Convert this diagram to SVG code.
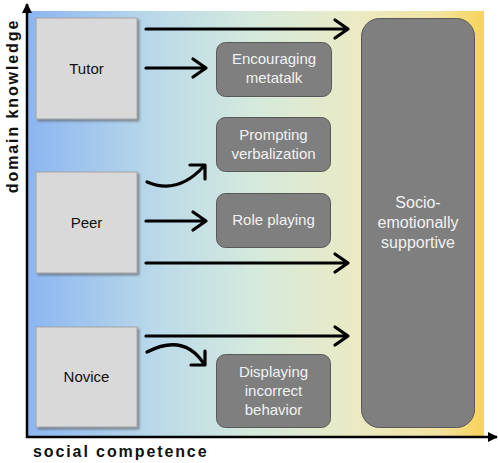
<svg xmlns="http://www.w3.org/2000/svg" width="498" height="463" viewBox="0 0 498 463">
<defs>
<linearGradient id="bg" x1="0" y1="0" x2="1" y2="0">
<stop offset="0" stop-color="#8cb6f2"/>
<stop offset="0.3" stop-color="#bddbe8"/>
<stop offset="0.5" stop-color="#d5eadc"/>
<stop offset="0.72" stop-color="#ebeac4"/>
<stop offset="0.9" stop-color="#f2e3a0"/>
<stop offset="1" stop-color="#f8d35a"/>
</linearGradient>
<filter id="sh" x="-10%" y="-10%" width="130%" height="130%">
<feDropShadow dx="2" dy="2" stdDeviation="1" flood-color="#555" flood-opacity="0.6"/>
</filter>
<marker id="tri" viewBox="0 0 10 10" refX="9" refY="5" markerWidth="10" markerHeight="10" markerUnits="userSpaceOnUse" orient="auto">
<path d="M0,0 L10,5 L0,10 z" fill="#000"/>
</marker>
</defs>
<style>
.role rect{fill:#d9d9d9;stroke:#a3a3a3;stroke-width:1;}
.role text{font-family:"Liberation Sans",Arial,sans-serif;font-size:15px;fill:#111;text-anchor:middle;}
.beh rect{fill:#7f7f7f;stroke:#595959;stroke-width:1;}
.beh text{font-family:"Liberation Sans",Arial,sans-serif;font-size:15px;fill:#f2f2f2;text-anchor:middle;}
.conn path{fill:none;stroke:#000;stroke-width:3.2;stroke-linecap:round;stroke-linejoin:round;}
.axis{stroke:#000;stroke-width:2.5;fill:none;}
.alabel{font-family:"Liberation Sans",Arial,sans-serif;font-size:16px;font-weight:bold;fill:#111;letter-spacing:1.9px;}
</style>
<rect x="28" y="11" width="456" height="425" fill="url(#bg)"/>
<g id="axes">
<line class="axis" x1="27" y1="438" x2="27" y2="4" marker-end="url(#tri)"/>
<line class="axis" x1="26" y1="437" x2="497" y2="437" marker-end="url(#tri)"/>
<text class="alabel" transform="translate(18,106) rotate(-90)" text-anchor="middle">domain knowledge</text>
<text class="alabel" x="33" y="457">social competence</text>
</g>
<g id="tutor" class="role"><rect x="36" y="18" width="101" height="101" filter="url(#sh)"/><text x="86.5" y="74">Tutor</text></g>
<g id="peer" class="role"><rect x="36" y="172" width="101" height="101" filter="url(#sh)"/><text x="86.5" y="228">Peer</text></g>
<g id="novice" class="role"><rect x="36" y="327" width="101" height="100" filter="url(#sh)"/><text x="86.5" y="382">Novice</text></g>
<g id="encouraging" class="beh"><rect x="216.5" y="42.5" width="115" height="54" rx="9"/><text x="274" y="64">Encouraging</text><text x="274" y="83">metatalk</text></g>
<g id="prompting" class="beh"><rect x="216.5" y="117.5" width="114" height="54" rx="9"/><text x="273.5" y="140">Prompting</text><text x="273.5" y="159">verbalization</text></g>
<g id="roleplaying" class="beh"><rect x="216.5" y="193.5" width="114" height="54" rx="9"/><text x="273.5" y="225">Role playing</text></g>
<g id="displaying" class="beh"><rect x="216.5" y="354.5" width="114" height="73" rx="9"/><text x="273.5" y="377">Displaying</text><text x="273.5" y="396">incorrect</text><text x="273.5" y="415">behavior</text></g>
<g id="socio" class="beh"><rect x="361.5" y="18.5" width="113" height="409" rx="18"/><text x="418" y="208" style="font-size:16px">Socio-</text><text x="418" y="228" style="font-size:16px">emotionally</text><text x="418" y="248" style="font-size:16px">supportive</text></g>
<g id="connectors" class="conn">
<path d="M146,29 H348 M335,20 L348,29 L335,38"/>
<path d="M146,68 H206 M193,59 L206,68 L193,77"/>
<path d="M147,182 Q178,195 204,166 M190,165 L205,165 L205,179"/>
<path d="M146,221 H206 M193,212 L206,221 L193,230"/>
<path d="M146,263 H348 M335,254 L348,263 L335,272"/>
<path d="M146,336 H348 M335,327 L348,336 L335,345"/>
<path d="M147,352 Q184,333 204,364 M205,351 L205,365 L191,365"/>
</g>
</svg>
